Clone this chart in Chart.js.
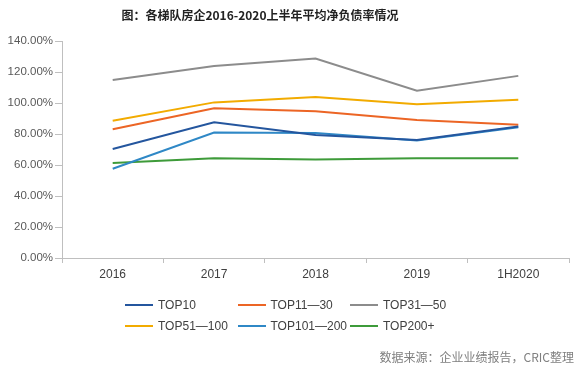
<!DOCTYPE html>
<html>
<head>
<meta charset="utf-8">
<script src="https://cdn.jsdelivr.net/npm/chart.js@4.4.1/dist/chart.umd.min.js"></script>
<style>
  body { margin: 0; background: #fff; }
  #wrap { position: relative; width: 577px; height: 371px; }
  #title { position: absolute; left: 0; top: 6px; width: 520px; text-align: center;
    font: bold 12px "Noto Sans CJK SC", sans-serif; color: #222; }
  #source { position: absolute; right: 3px; top: 348px;
    font: 12px "Noto Sans CJK SC", sans-serif; color: #7f7f7f; }
  #legend { position: absolute; left: 125px; top: 298px; width: 400px; }
  .leg { position: absolute; font: 12px "Liberation Sans", sans-serif; color: #404040; white-space: nowrap; }
  .leg span { display: inline-block; width: 28px; height: 2px; vertical-align: middle; margin-right: 5px; position: relative; top: -1px; }
</style>
</head>
<body>
<div id="wrap">
  <div id="title">图：各梯队房企2016-2020上半年平均净负债率情况</div>
  <canvas id="myChart" width="577" height="371"></canvas>
  <div id="legend"></div>
  <div id="source">数据来源：企业业绩报告，CRIC整理</div>
</div>
<script>
const years = ["2016", "2017", "2018", "2019", "1H2020"]
const seriesNames = ["TOP10", "TOP11-30", "TOP31-50", "TOP51-100", "TOP101-200", "TOP200+"]
const legendNames = ["TOP10", "TOP11\u201430", "TOP31\u201450", "TOP51\u2014100", "TOP101\u2014200", "TOP200+"]
const top10 = [70.3, 87.6, 79.4, 76.2, 84.8]
const top11_30 = [83.1, 96.6, 94.7, 89.1, 85.9]
const top31_50 = [114.8, 123.8, 128.7, 107.9, 117.5]
const top51_100 = [88.6, 100.4, 103.8, 99.2, 102.1]
const top101_200 = [57.6, 80.9, 80.7, 75.8, 84.4]
const top200plus = [61.3, 64.3, 63.6, 64.4, 64.4]
const colors = ["#24569e", "#ec6525", "#8c8c8c", "#f2ab00", "#2f88c6", "#3e9b3a"]
const yTicksStep = 20

const values = [top10, top11_30, top31_50, top51_100, top101_200, top200plus]

const legendBox = document.getElementById("legend")
let kod = ""
legendNames.forEach((name, i) => {
    let col = i % 3
    let row = Math.floor(i / 3)
    kod += `<div class="leg" style="left:${col * 112.5}px;top:${row * 21}px"><span style="background:${colors[i]}"></span>${name}</div>`
})
legendBox.innerHTML = kod

const ctx = document.getElementById("myChart")
const chart = new Chart(ctx, {
    type: "line",
    data: {
        labels: years,
        datasets: seriesNames.map((name, i) => ({
            label: name,
            data: values[i],
            borderColor: colors[i],
            backgroundColor: colors[i],
            borderWidth: 2,
            pointRadius: 0,
            tension: 0
        }))
    },
    options: {
        responsive: false,
        animation: false,
        layout: { padding: { top: 41, left: 0, right: 8, bottom: 88 } },
        plugins: { legend: { display: false }, title: { display: false }, tooltip: { enabled: false } },
        scales: {
            x: {
                offset: true,
                afterFit: s => { s.height = 25 },
                grid: { offset: true, drawOnChartArea: false, tickLength: 5, color: "#bfbfbf" },
                border: { color: "#bfbfbf" },
                ticks: { font: { family: "Liberation Sans", size: 12 }, color: "#404040", padding: 4, maxRotation: 0 }
            },
            y: {
                min: 0,
                max: 140,
                afterFit: s => { s.width = 62 },
                grid: { drawOnChartArea: false, tickLength: 7, color: "#bfbfbf" },
                border: { color: "#bfbfbf" },
                ticks: {
                    stepSize: yTicksStep,
                    font: { family: "Liberation Sans", size: 11.5 },
                    color: "#595959",
                    padding: 2,
                    callback: v => v.toFixed(2) + "%"
                }
            }
        }
    }
})
</script>
</body>
</html>
